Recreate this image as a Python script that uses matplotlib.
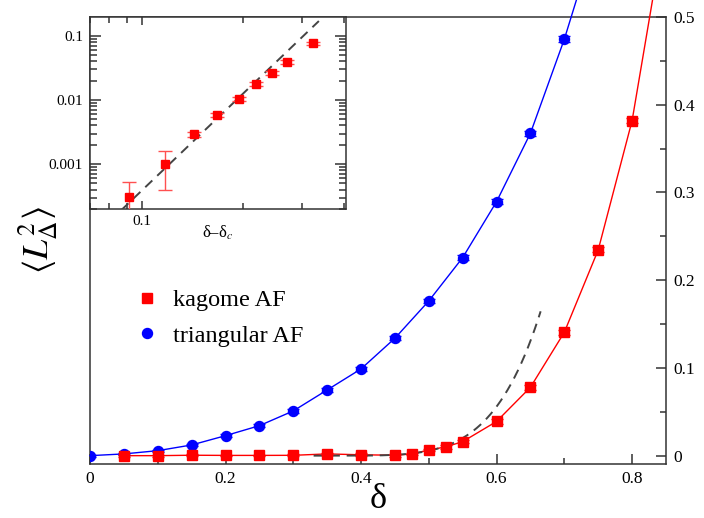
import matplotlib
matplotlib.use('Agg')
import numpy as np
import matplotlib.pyplot as plt
from matplotlib.lines import Line2D
from matplotlib.ticker import MultipleLocator, LogLocator, FuncFormatter, NullFormatter

plt.rcParams['font.family'] = ['Liberation Serif', 'DejaVu Serif']
plt.rcParams['mathtext.fontset'] = 'stix'

# triangular AF (blue circles); last point is off the top, only the line shows
tri_delta = [0.0, 0.05, 0.1, 0.15, 0.2, 0.25, 0.3, 0.35, 0.4, 0.45, 0.5,
             0.55, 0.6, 0.65, 0.7, 0.75]
tri_L2 = [0.0, 0.002, 0.0057, 0.0122, 0.0228, 0.0342, 0.051, 0.0749, 0.0989,
          0.1339, 0.1764, 0.2258, 0.2896, 0.3676, 0.4748, 0.60]
tri_err = [0.001, 0.001, 0.001, 0.0015, 0.0015, 0.0015, 0.002, 0.002, 0.002,
           0.0025, 0.0025, 0.003, 0.003, 0.003, 0.003, 0.003]

# kagome AF (red squares); last point is off the top as well
kag_delta = [0.05, 0.1, 0.15, 0.2, 0.25, 0.3, 0.35, 0.4, 0.45, 0.475, 0.5,
             0.525, 0.55, 0.6, 0.65, 0.7, 0.75, 0.8, 0.85]
kag_L2 = [0.0, 0.0, 0.0005, 0.0003, 0.0003, 0.0004, 0.002, 0.001, 0.0005,
          0.002, 0.0065, 0.010, 0.016, 0.039, 0.078, 0.1407, 0.2346, 0.382, 0.61]
kag_err = [0.001, 0.001, 0.001, 0.001, 0.001, 0.001, 0.0015, 0.0015, 0.0015,
           0.0015, 0.0015, 0.002, 0.002, 0.0025, 0.003, 0.003, 0.003, 0.003, 0.003]

# inset: kagome, log-log vs delta - delta_c
ins_x = [0.0918, 0.1168, 0.1426, 0.1678, 0.1943, 0.2189, 0.2443, 0.2715, 0.3229]
ins_y = [0.000312, 0.000996, 0.00292, 0.00583, 0.0104, 0.0176, 0.0266, 0.0387, 0.0763]
ins_err = [0.00022, 0.0006, 0.0003, 0.0005, 0.0008, 0.0013, 0.002, 0.003, 0.005]

# power law fit  L2 = amp * (delta - delta_c)^expo
fit_delta_c = 0.33
fit_amp = 39.0
fit_expo = 5.0
fit_end = 0.665

RED = '#ff0000'
BLUE = '#0000ff'
SPINE = '#333333'

fig = plt.figure(figsize=(7.04, 5.18), dpi=100)
ax = fig.add_axes([90 / 704, 54 / 518, 576 / 704, 447 / 518])

# fit curve (dashed)
d = np.linspace(fit_delta_c, fit_end, 200)
ax.plot(d, fit_amp * (d - fit_delta_c) ** fit_expo, color='#444444', lw=1.4,
        dashes=(5, 3.5), zorder=4)

# lines are not clipped, they run out of the frame at the top
ax.plot(tri_delta, tri_L2, color=BLUE, lw=1.0, clip_on=False, zorder=3)
ax.plot(kag_delta, kag_L2, color=RED, lw=1.0, clip_on=False, zorder=3)
ax.errorbar(tri_delta, tri_L2, yerr=tri_err, fmt='o', color=BLUE, ms=7.2,
            elinewidth=1, capsize=4.3, capthick=1, zorder=5)
ax.errorbar(kag_delta, kag_L2, yerr=kag_err, fmt='s', color=RED, ms=6.6,
            elinewidth=1, capsize=4.3, capthick=1, zorder=5)

ax.set_xlim(0, 0.85)
ax.set_ylim(-0.0095, 0.5)
ax.xaxis.set_major_locator(MultipleLocator(0.2))
ax.xaxis.set_minor_locator(MultipleLocator(0.1))
ax.yaxis.set_major_locator(MultipleLocator(0.1))
ax.yaxis.set_minor_locator(MultipleLocator(0.05))
ax.xaxis.set_major_formatter(FuncFormatter(lambda v, p: f'{v:g}'))
ax.yaxis.set_major_formatter(FuncFormatter(lambda v, p: f'{v:g}'))
ax.yaxis.tick_right()
ax.tick_params(which='both', direction='in', labelsize=12.5, color=SPINE, width=1.1)
ax.tick_params(which='major', length=7, pad=5)
ax.tick_params(which='minor', length=4)
for s in ax.spines.values():
    s.set_color(SPINE)
    s.set_linewidth(1.1)

fig.text(38 / 704, 1 - 240 / 518, r'$\langle L^2_{\Delta}\rangle$', rotation=90,
         ha='center', va='center', fontsize=26)
fig.text(378 / 704, 1 - 500 / 518, 'δ', ha='center', va='center', fontsize=26)

handles = [Line2D([], [], ls='none', marker='s', ms=6.6, color=RED),
           Line2D([], [], ls='none', marker='o', ms=7.2, color=BLUE)]
ax.legend(handles, ['kagome AF', 'triangular AF'], loc='center left',
          bbox_to_anchor=(0.057, 0.327), frameon=False, fontsize=17.5,
          handlelength=1.0, handletextpad=0.55, borderpad=0, labelspacing=0.56)

# inset
ins = fig.add_axes([90 / 704, 309 / 518, 256 / 704, 192 / 518])
ins.set_xscale('log')
ins.set_yscale('log')
xf = np.linspace(0.08, 0.337, 100)
ins.plot(xf, fit_amp * xf ** fit_expo, color='#444444', lw=1.4, dashes=(5, 3.5),
         zorder=3)
ins.errorbar(ins_x, ins_y, yerr=ins_err, fmt='s', color=RED, ms=6.0,
             elinewidth=1, ecolor='#ff5050', capsize=4.7, capthick=1, zorder=4)
ins.set_xlim(0.07, 0.406)
ins.set_ylim(0.0002, 0.196)
ins.xaxis.set_major_locator(LogLocator(base=10))
ins.xaxis.set_minor_locator(LogLocator(base=10, subs=np.arange(2, 10)))
ins.yaxis.set_major_locator(LogLocator(base=10))
ins.yaxis.set_minor_locator(LogLocator(base=10, subs=np.arange(2, 10)))
ins.xaxis.set_major_formatter(FuncFormatter(lambda v, p: f'{v:g}'))
ins.yaxis.set_major_formatter(FuncFormatter(lambda v, p: f'{v:g}'))
ins.xaxis.set_minor_formatter(NullFormatter())
ins.yaxis.set_minor_formatter(NullFormatter())
ins.tick_params(which='both', direction='in', top=True, right=True,
                labelsize=11, color=SPINE, width=1.1)
ins.tick_params(axis='y', which='major', length=8, pad=5)
ins.tick_params(axis='y', which='minor', length=5)
ins.tick_params(axis='x', which='major', length=6, pad=4)
ins.tick_params(axis='x', which='minor', length=4.5)
for s in ins.spines.values():
    s.set_color(SPINE)
    s.set_linewidth(1.1)
ins.set_xlabel(r'δ–δ$_c$', fontsize=12, labelpad=-3)

fig.savefig('out.png', dpi=100)
